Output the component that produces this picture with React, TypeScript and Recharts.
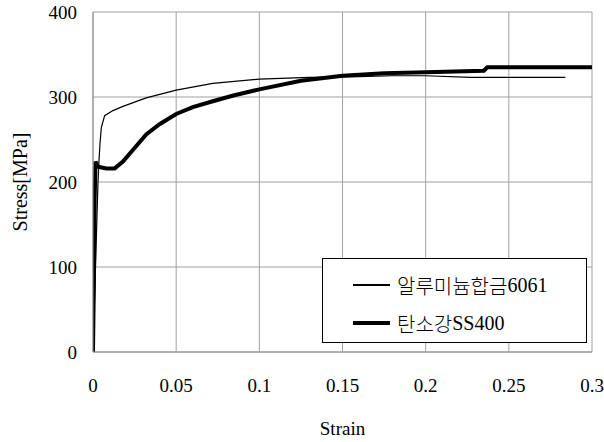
import { LineChart, Line, XAxis, YAxis, CartesianGrid } from "recharts"

// 알루미늄합금6061 (thin line)
const alStrain = [0, 0.0015, 0.003, 0.0036, 0.0042, 0.005, 0.007, 0.012, 0.018, 0.032, 0.05, 0.072, 0.1, 0.13, 0.16, 0.18, 0.2, 0.227, 0.25, 0.284]
const alStress = [0, 100, 200, 225, 245, 264, 278, 284, 289, 299, 308, 316, 321, 323, 324, 325, 325, 323, 323, 323]

// 탄소강SS400 (thick line)
const steelStrain = [0, 0.0005, 0.001, 0.0015, 0.003, 0.008, 0.013, 0.018, 0.025, 0.032, 0.04, 0.05, 0.06, 0.072, 0.085, 0.1, 0.125, 0.15, 0.175, 0.2, 0.235, 0.237, 0.26, 0.3]
const steelStress = [0, 80, 180, 224, 218, 216, 216, 224, 240, 256, 268, 280, 288, 295, 302, 309, 319, 325, 328, 329, 331, 335, 335, 335]

const xTicks = [0, 0.05, 0.1, 0.15, 0.2, 0.25, 0.3]
const yTicks = [0, 100, 200, 300, 400]

// names split in a Korean part and a Latin part so the digits keep the serif font
const seriesNames = [
  ["알루미늄합금", "6061"],
  ["탄소강", "SS400"],
]

const alData = alStrain.map((x, i) => ({ x, y: alStress[i] }))
const steelData = steelStrain.map((x, i) => ({ x, y: steelStress[i] }))

const font = "'Liberation Serif', 'Noto Sans CJK KR', serif"
const tick = { fontSize: 19, fill: "#000", fontFamily: font }

// legend box drawn over the plot, like the reference
function LegendBox() {
  return (
    <div
      style={{
        position: "absolute",
        left: 322,
        top: 258,
        width: 265,
        height: 85,
        border: "1.5px solid #000",
        background: "#fff",
        fontSize: 20,
        color: "#000",
        boxSizing: "border-box",
      }}
    >
      {seriesNames.map((n, i) => (
        <div key={i} style={{ display: "flex", alignItems: "center", height: 26, marginTop: i === 0 ? 13 : 12, paddingLeft: 30 }}>
          <div style={{ width: 37, height: i === 0 ? 1.2 : 4, background: "#000", marginRight: 7 }} />
          <span style={{ fontFamily: "'Noto Sans CJK KR'", fontWeight: 300 }}>{n[0]}</span>
          <span style={{ fontFamily: "'Liberation Serif'" }}>{n[1]}</span>
        </div>
      ))}
    </div>
  )
}

export default function App() {
  return (
    <div style={{ position: "absolute", left: 0, top: 0, width: 604, height: 442, fontFamily: font }}>
      <LineChart width={604} height={442} margin={{ top: 12, right: 12, left: 0, bottom: 0 }} style={{ fontFamily: font }}>
        <CartesianGrid stroke="#a0a0a0" strokeWidth={1} />
        <XAxis
          type="number"
          dataKey="x"
          domain={[0, 0.3]}
          ticks={xTicks}
          tick={tick}
          tickLine={false}
          tickSize={0}
          tickMargin={27}
          axisLine={{ stroke: "#909090" }}
          height={90}
          allowDataOverflow
          label={{
            position: "insideBottom",
            content: ({ viewBox }: any) => (
              <text x={viewBox.x + viewBox.width / 2} y={435} textAnchor="middle" fontFamily={font} fontSize={19} fill="#000">
                Strain
              </text>
            ),
          }}
        />
        <YAxis
          type="number"
          dataKey="y"
          domain={[0, 400]}
          ticks={yTicks}
          tick={tick}
          tickLine={false}
          tickSize={0}
          tickMargin={16}
          axisLine={{ stroke: "#909090" }}
          width={93}
          label={{
            position: "insideLeft",
            content: ({ viewBox }: any) => {
              const cy = viewBox.y + viewBox.height / 2
              return (
                <text x={27} y={cy} transform={`rotate(-90 27 ${cy})`} textAnchor="middle" fontFamily={font} fontSize={20} fill="#000">
                  Stress[MPa]
                </text>
              )
            },
          }}
        />
        <Line
          data={alData}
          dataKey="y"
          name={seriesNames[0].join("")}
          type="linear"
          stroke="#000"
          strokeWidth={1.2}
          dot={false}
          activeDot={false}
          isAnimationActive={false}
        />
        <Line
          data={steelData}
          dataKey="y"
          name={seriesNames[1].join("")}
          type="linear"
          stroke="#000"
          strokeWidth={4}
          dot={false}
          activeDot={false}
          isAnimationActive={false}
        />
      </LineChart>
      <LegendBox />
    </div>
  )
}
